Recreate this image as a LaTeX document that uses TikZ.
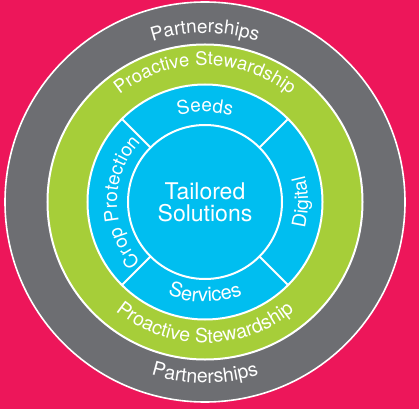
\documentclass[tikz,border=0pt]{standalone}
\usepackage{fontspec}
\setmainfont{TeX Gyre Heros}
\usepackage{tikz}
\usetikzlibrary{decorations.text}
\definecolor{backpink}{RGB}{237,22,90}
\definecolor{ringgray}{RGB}{109,110,114}
\definecolor{ringgreen}{RGB}{166,206,57}
\definecolor{ringblue}{RGB}{0,190,240}
% text on a circle round the centre: start angle, end angle, radius, text, size
\newcommand{\RingText}[5]{
\path [decorate,decoration={text along path,text align=center,
  text color=white,text={|\fontsize{#5}{#5}\selectfont|#4}}]
  (#1:#3pt) arc [start angle=#1,end angle=#2,radius=#3pt];
}

\begin{document}
\begin{tikzpicture}[x=1pt,y=1pt,ring/.style={draw=white,line width=2pt}]
\fill [backpink] (-205,-207) rectangle (214,202);
\useasboundingbox (-205,-207) rectangle (214,202);
\draw [ring,line width=1.6pt,fill=ringgray] (0,0) circle (200pt);
\draw [ring,fill=ringgreen] (0,0) circle (157.5pt);
\draw [ring,fill=ringblue] (0,0) circle (117.5pt);
\draw [ring] (0,0) circle (77pt);
\foreach \a in {45,135,225,315}
  \draw [ring] (\a:77pt) -- (\a:117.5pt);
\node [text=white,align=center,font=\fontsize{23}{22}\selectfont] (core) at (0,0) {Tailored\\Solutions};
% outer rings
\RingText{180}{0}{169}{Partnerships}{19}
\RingText{180}{360}{181}{Partnerships}{19.5}
\RingText{180}{0}{137}{Proactive Stewardship}{18.5}
\RingText{180}{360}{141}{Proactive Stewardship}{19.5}
% blue sectors
\RingText{180}{0}{90}{Seeds}{19}
\RingText{180}{360}{100}{Services}{20}
\RingText{270}{90}{88}{Crop Protection}{19}
\RingText{270}{450}{103}{Digital}{19}
\end{tikzpicture}
\end{document}
